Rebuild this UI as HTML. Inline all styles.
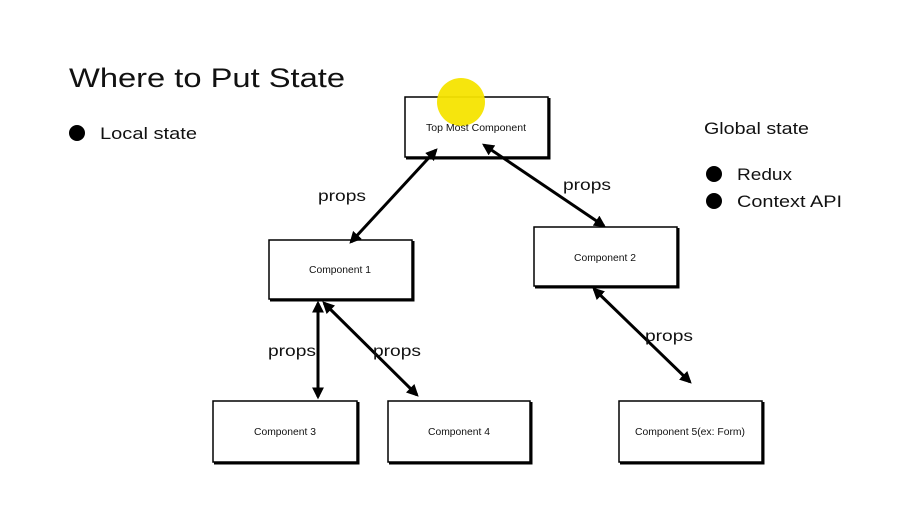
<!DOCTYPE html>
<html><head><style>
body{margin:0;width:918px;height:520px;background:#fff;overflow:hidden;font-family:"Liberation Sans",sans-serif;}
</style></head><body>
<svg width="918" height="520" viewBox="0 0 918 520" xmlns="http://www.w3.org/2000/svg">
<defs>
<marker id="a" viewBox="0 0 10 10" refX="8" refY="5" markerWidth="4" markerHeight="4" orient="auto-start-reverse"><path d="M0,0L10,5L0,10z" fill="#000"/></marker>
</defs>
<text x="69" y="87" font-size="27" fill="#111" textLength="276" lengthAdjust="spacingAndGlyphs">Where to Put State</text>
<circle cx="77" cy="133" r="8" fill="#000"/>
<text x="100" y="139" font-size="17" fill="#111" textLength="97" lengthAdjust="spacingAndGlyphs">Local state</text>
<text x="704" y="134" font-size="17" fill="#111" textLength="105" lengthAdjust="spacingAndGlyphs">Global state</text>
<circle cx="714" cy="174" r="8" fill="#000"/>
<text x="737" y="180" font-size="17" fill="#111" textLength="55" lengthAdjust="spacingAndGlyphs">Redux</text>
<circle cx="714" cy="201" r="8" fill="#000"/>
<text x="737" y="207" font-size="17" fill="#111" textLength="105" lengthAdjust="spacingAndGlyphs">Context API</text>
<g fill="#fff" stroke="#000" stroke-width="1.5">
<rect x="405" y="97" width="143" height="60"/>
<rect x="269" y="240" width="143" height="59"/>
<rect x="534" y="227" width="143" height="59"/>
<rect x="213" y="401" width="144" height="61"/>
<rect x="388" y="401" width="142" height="61"/>
<rect x="619" y="401" width="143" height="61"/>
</g>
<g stroke="#000" stroke-width="3" fill="none">
<path d="M406 158H549V98M270 300H413V241M535 287H678V228M214 463H358V402M389 463H531V402M620 463H763V402"/>
</g>
<circle cx="461" cy="102" r="24" fill="#f5e400" opacity="0.95"/>
<g font-size="10" fill="#111" text-anchor="middle">
<text x="476" y="131" textLength="100" lengthAdjust="spacingAndGlyphs">Top Most Component</text>
<text x="340" y="273" textLength="62" lengthAdjust="spacingAndGlyphs">Component 1</text>
<text x="605" y="261" textLength="62" lengthAdjust="spacingAndGlyphs">Component 2</text>
<text x="285" y="435" textLength="62" lengthAdjust="spacingAndGlyphs">Component 3</text>
<text x="459" y="435" textLength="62" lengthAdjust="spacingAndGlyphs">Component 4</text>
<text x="690" y="435" textLength="110" lengthAdjust="spacingAndGlyphs">Component 5(ex: Form)</text>
</g>
<g stroke="#000" stroke-width="3" marker-start="url(#a)" marker-end="url(#a)">
<line x1="436" y1="150" x2="351" y2="242"/>
<line x1="484" y1="145" x2="604" y2="226"/>
<line x1="318" y1="303" x2="318" y2="397"/>
<line x1="324" y1="303" x2="417" y2="395"/>
<line x1="594" y1="289" x2="690" y2="382"/>
</g>
<g font-size="16" fill="#111">
<text x="318" y="201" textLength="48" lengthAdjust="spacingAndGlyphs">props</text>
<text x="563" y="190" textLength="48" lengthAdjust="spacingAndGlyphs">props</text>
<text x="268" y="356" textLength="48" lengthAdjust="spacingAndGlyphs">props</text>
<text x="373" y="356" textLength="48" lengthAdjust="spacingAndGlyphs">props</text>
<text x="645" y="341" textLength="48" lengthAdjust="spacingAndGlyphs">props</text>
</g>
</svg>
</body></html>
